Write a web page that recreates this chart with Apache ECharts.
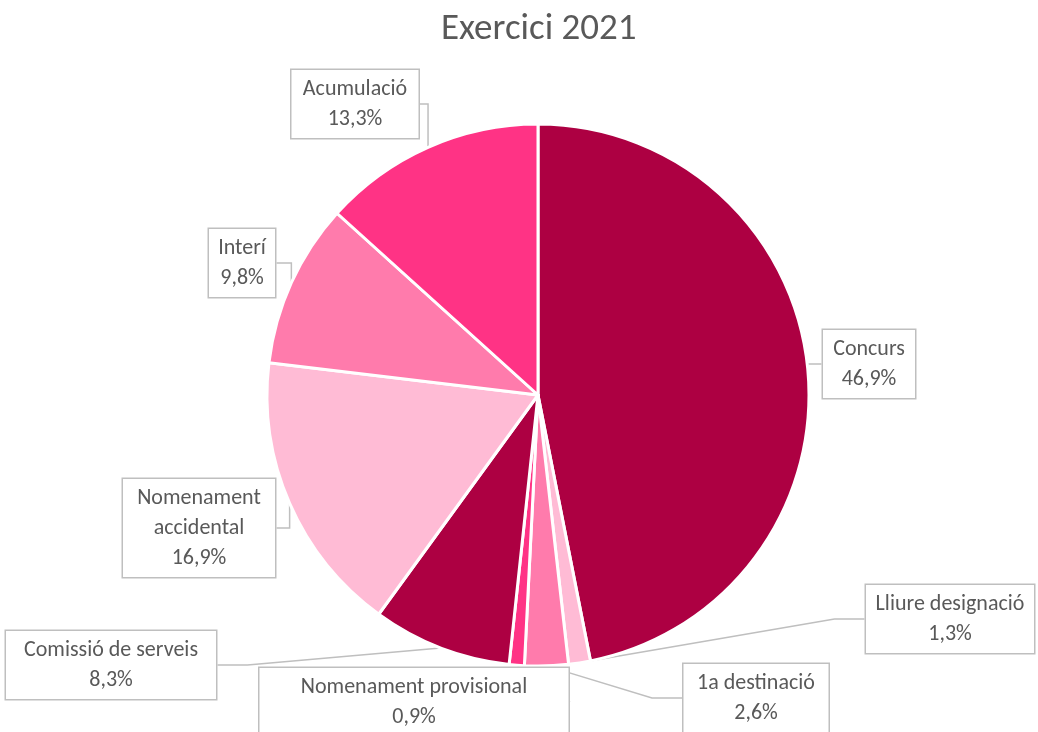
<!DOCTYPE html>
<html>
<head>
<meta charset="utf-8">
<script src="https://cdn.jsdelivr.net/npm/echarts@6/dist/echarts.min.js"></script>
<style>
  html, body { margin: 0; padding: 0; background: #fff; }
  #chart { width: 1038px; height: 732px; }
</style>
</head>
<body>
<div id="chart"></div>
<script>
// dades del gràfic
const categories = ['Concurs', 'Lliure designació', '1a destinació', 'Nomenament provisional',
  'Comissió de serveis', 'Nomenament accidental', 'Interí', 'Acumulació']
const percentages = [46.9, 1.3, 2.6, 0.9, 8.3, 16.9, 9.8, 13.3]

const palette = ['#ad0042', '#ffbbd5', '#ff7bac', '#ff3385']

// posició (centre) i amplada de cada caixa d'etiqueta
const boxLayout = [
  { x: 869, y: 364, w: 80 },
  { x: 950, y: 619, w: 156 },
  { x: 756, y: 698, w: 133 },
  { x: 414, y: 702, w: 297 },
  { x: 111, y: 665, w: 198 },
  { x: 199, y: 528, w: 140 },
  { x: 242, y: 263, w: 54 },
  { x: 355, y: 104, w: 115 }
]

const chart = echarts.init(document.getElementById('chart'))

const fontFamily = 'Carlito, Calibri, "Liberation Sans Narrow", "Liberation Sans", sans-serif'

chart.setOption({
  backgroundColor: '#fff',
  title: {
    text: 'Exercici 2021',
    left: 436,
    top: 6,
    textStyle: { color: '#595959', fontSize: 37, fontWeight: 'normal', fontFamily }
  },
  series: [{
    type: 'pie',
    center: [538, 395],
    radius: 271,
    startAngle: 90,
    clockwise: true,
    avoidLabelOverlap: false,
    animation: false,
    itemStyle: { borderColor: '#fff', borderWidth: 3 },
    label: {
      show: true,
      position: 'outside',
      color: '#595959',
      fontSize: 22,
      fontFamily,
      lineHeight: 30,
      align: 'center',
      overflow: 'none',
      backgroundColor: '#fff',
      borderColor: '#bfbfbf',
      borderWidth: 1.5,
      padding: [4, 6],
      formatter: p => {
        const name = p.name === 'Nomenament accidental' ? 'Nomenament\naccidental' : p.name
        return name + '\n' + p.value.toFixed(1).replace('.', ',') + '%'
      }
    },
    labelLine: {
      show: true,
      lineStyle: { color: '#bfbfbf', width: 1.5 }
    },
    labelLayout: params => {
      const b = boxLayout[params.dataIndex]
      return { x: b.x, y: b.y, align: 'center', verticalAlign: 'middle' }
    },
    data: categories.map((name, i) => ({
      name,
      value: percentages[i],
      itemStyle: { color: palette[i % palette.length] },
      label: { width: boxLayout[i].w }
    }))
  }]
})
</script>
</body>
</html>
